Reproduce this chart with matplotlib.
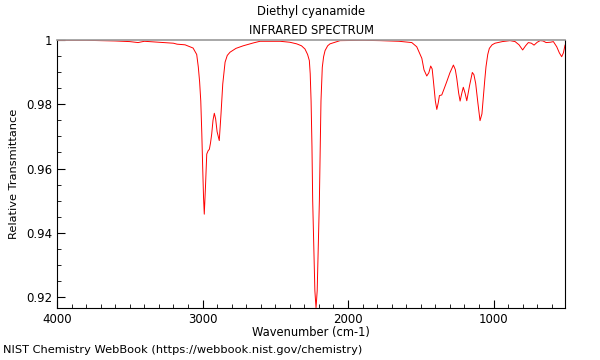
import numpy as np
import matplotlib
matplotlib.use("Agg")
import matplotlib.pyplot as plt
from matplotlib.ticker import MultipleLocator, FuncFormatter

# values
wavenumber = [4000, 3800, 3600, 3500, 3443, 3400, 3300, 3200, 3175, 3120, 3065, 3040,
              3029, 3020, 3012, 3005, 2999, 2993, 2988, 2980, 2971, 2962, 2953,
              2945, 2937, 2928, 2919, 2910, 2900, 2885, 2873, 2861, 2845, 2830,
              2811, 2770, 2720, 2650, 2605, 2467, 2400, 2353, 2320, 2296, 2278,
              2266, 2260, 2254, 2248, 2243, 2235, 2228, 2220, 2212, 2205, 2197,
              2191, 2186, 2177, 2168, 2158, 2140, 2124, 2055, 1900, 1780, 1650,
              1562, 1528, 1493, 1478, 1459, 1445, 1432, 1422, 1414, 1400, 1390,
              1380, 1372, 1356, 1340, 1322, 1300, 1276, 1263, 1253, 1240, 1230,
              1218, 1208, 1196, 1184, 1165, 1146, 1135, 1123, 1108, 1093, 1080,
              1070, 1060, 1052, 1040, 1029, 1010, 990, 940, 887, 852, 825, 800,
              780, 761, 740, 722, 700, 680, 660, 639, 610, 589, 566, 548, 532, 520, 509]
transmittance = [0.9999, 0.9999, 0.9997, 0.9995, 0.9992, 0.9996, 0.9993, 0.999, 0.9987,
                 0.9985, 0.9975, 0.9955, 0.9916, 0.987, 0.981, 0.971, 0.9605, 0.951,
                 0.9458, 0.954, 0.9645, 0.9655, 0.966, 0.968, 0.9707, 0.975, 0.9772,
                 0.9755, 0.9715, 0.9687, 0.977, 0.9863, 0.9931, 0.9952, 0.9962, 0.9974,
                 0.9982, 0.9991, 0.9996, 0.9996, 0.9993, 0.9988, 0.9982, 0.9972, 0.9955,
                 0.9936, 0.9895, 0.981, 0.967, 0.950, 0.935, 0.922, 0.9166, 0.922,
                 0.935, 0.950, 0.967, 0.981, 0.9915, 0.9948, 0.9967, 0.9982, 0.9988,
                 0.9998, 0.9999, 0.9998, 0.9996, 0.9992, 0.9979, 0.9943, 0.9907, 0.9888,
                 0.9898, 0.9919, 0.991, 0.9875, 0.981, 0.9784, 0.9805, 0.9827, 0.9829,
                 0.9848, 0.987, 0.9898, 0.9922, 0.9908, 0.9881, 0.9835, 0.981, 0.9835,
                 0.9853, 0.9835, 0.9811, 0.9858, 0.9899, 0.9892, 0.9865, 0.9805, 0.9749,
                 0.977, 0.9824, 0.9878, 0.9917, 0.9955, 0.9974, 0.9985, 0.999, 0.9995,
                 0.9998, 0.9995, 0.9985, 0.9969, 0.9982, 0.9992, 0.999, 0.9984, 0.9993,
                 0.9998, 0.9997, 0.9992, 0.9993, 0.9995, 0.9979, 0.996, 0.9948, 0.996,
                 0.9984]

title_lines = ["Diethyl cyanamide", "INFRARED SPECTRUM"]

fig = plt.figure(figsize=(6, 3.6), dpi=100)
ax = fig.add_axes([0.095, 0.1444, 0.8467, 0.7445])
ax.plot(wavenumber, transmittance, color="red", lw=0.7)

ax.set_xlim(4000, 509)
ax.set_ylim(0.9166, 1.0)
ax.xaxis.set_major_locator(MultipleLocator(1000))
ax.xaxis.set_minor_locator(MultipleLocator(100))
ax.yaxis.set_major_locator(MultipleLocator(0.02))
ax.yaxis.set_minor_locator(MultipleLocator(0.005))
ax.yaxis.set_major_formatter(FuncFormatter(lambda v, p: "%g" % round(v, 4)))
ax.tick_params(which="both", direction="in", labelsize=8.5, top=False, right=False)
ax.tick_params(which="major", length=6)
ax.tick_params(which="minor", length=3)
ax.spines["top"].set_color("#999999")
ax.spines["top"].set_linewidth(1.2)

ax.set_xlabel("Wavenumber (cm-1)", fontsize=8.3, labelpad=0)
ax.set_ylabel("Relative Transmittance", fontsize=8.2, labelpad=5)
ax.set_title("\n".join(title_lines), fontsize=8.3, linespacing=1.65, pad=4)
fig.text(0.005, 0.02, "NIST Chemistry WebBook (https://webbook.nist.gov/chemistry)",
         fontsize=8.2)

fig.savefig("out.png", dpi=100)
